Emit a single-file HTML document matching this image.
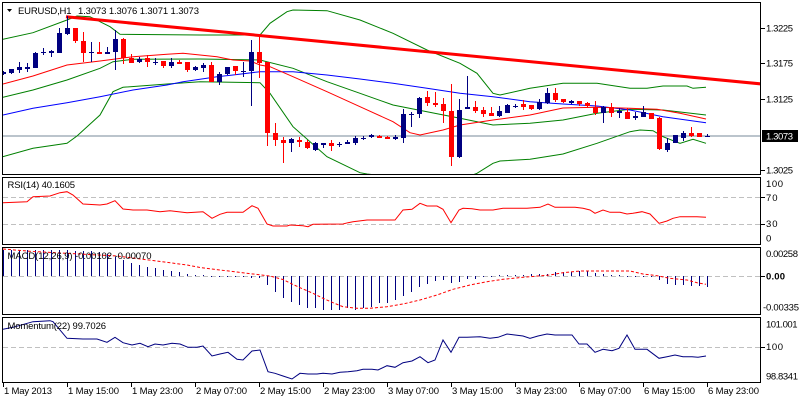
<!DOCTYPE html>
<html><head><meta charset="utf-8"><style>
html,body{margin:0;padding:0;background:#fff;}
svg{display:block;}
text{font-family:"Liberation Sans",sans-serif;font-size:9.5px;fill:#000;}
</style></head><body>
<svg width="800" height="400" viewBox="0 0 800 400" xmlns="http://www.w3.org/2000/svg">
<defs>
<clipPath id="cm"><rect x="3" y="3" width="757" height="171"/></clipPath>
<clipPath id="cr"><rect x="3" y="178" width="757" height="66"/></clipPath>
<clipPath id="cd"><rect x="3" y="248" width="757" height="66"/></clipPath>
<clipPath id="co"><rect x="3" y="318" width="757" height="64"/></clipPath>
</defs>
<rect width="800" height="400" fill="#fff"/>
<g fill="none" stroke="#000" stroke-width="1" shape-rendering="crispEdges">
<rect x="2.5" y="2.5" width="758" height="172"/>
<rect x="2.5" y="177.5" width="758" height="67"/>
<rect x="2.5" y="247.5" width="758" height="67"/>
<rect x="2.5" y="317.5" width="758" height="65"/>
</g>
<!-- MAIN -->
<g clip-path="url(#cm)">
<line x1="3" y1="136" x2="760" y2="136" stroke="#778899" stroke-width="1" shape-rendering="crispEdges"/>
<g fill="none" stroke-width="1">
<polyline stroke="#008000" points="3,39.3 33,32.7 67,20 77,16 90,16.7 110,26.7 120,34.3 200,35 260,35 270,23.3 287,11.7 293,10 327,10.7 360,20 393,33.3 427,50 460,63.3 477,73.3 493,93.3 500,95 530,88.3 563,83.3 597,83.3 630,88.3 647,88.3 663,86 687,86 693,88.3 706,87.3"/>
<polyline stroke="#008000" points="3,97.3 33,90 67,80 100,68.3 113,61.7 133,59.3 200,59 260,60 293,68.3 327,81.7 360,93.3 393,105 427,111.7 460,118.3 493,125 530,123.3 563,120 597,113.3 630,109.3 663,110 706,115"/>
<polyline stroke="#008000" points="3,156.7 33,148.3 67,143.3 77,136 100,115 113,91.7 123,87.3 167,84 200,81.7 260,82.7 270,93.3 293,126.7 327,156.7 360,172.7 367,174 420,180 470,176 477,173.3 493,163.3 500,161 530,159.3 563,154 597,143.3 630,131.7 640,130 653,130.7 663,136.7 680,143.3 693,139.3 706,143.3"/>
<polyline stroke="#0000ff" points="3,115 33,108.3 67,102.7 100,96.7 133,90 167,85 183,81.7 217,76.7 233,75 260,71.7 293,71.7 327,75 360,79 393,83.3 427,88.3 460,93.3 493,96.7 530,101.7 563,104 597,106 630,110 663,116.7 706,122.7"/>
<polyline stroke="#ff0000" points="3,84 33,76 67,65 100,61 133,56.7 167,54.3 183,53.3 217,56.7 233,60 250,61 260,65 270,66.7 293,76.7 327,91.7 360,106.7 393,121.7 410,132.7 420,135 443,130 460,125 493,120 530,115 563,108 597,107.3 630,108.3 657,109.3 680,113.3 706,119"/>
</g>
<line x1="66" y1="16.8" x2="762" y2="84" stroke="#ff0000" stroke-width="3"/>
<g shape-rendering="crispEdges">
<path fill="none" stroke="#000080" stroke-width="1" d="M3.5 71V75M11.5 69V74M19.5 62V73M27.5 63V72M35.5 52V68M43.5 48V55M51.5 50V57M59.5 28V53M67.5 16V35M91.5 42V62M107.5 47V54M115.5 30V70M139.5 57V63M155.5 58V65M171.5 58V68M195.5 66V71M203.5 63V72M219.5 72V85M227.5 67V75M243.5 62V77M251.5 40V106M291.5 138V152M315.5 142V151M323.5 143V148M339.5 142V147M347.5 140V144M355.5 136V145M363.5 136V140M371.5 134V138M395.5 135V140M403.5 109V143M411.5 112V127M419.5 97V118M459.5 99V158M467.5 76V109M499.5 106V117M507.5 104V113M515.5 104V108M539.5 99V110M547.5 88V104M571.5 100V104M603.5 106V123M619.5 108V118M635.5 112V120M643.5 106V117M667.5 138V152M675.5 135V143M683.5 131V141M707.5 134V137"/>
<path fill="#000080" d="M1 72h5v2h-5zM9 69h5v4h-5zM17 67h5v3h-5zM25 67h5v2h-5zM33 53h5v15h-5zM41 52h5v1h-5zM49 51h5v2h-5zM57 33h5v20h-5zM65 28h5v6h-5zM89 52h5v1h-5zM105 52h5v2h-5zM113 39h5v13h-5zM137 59h5v3h-5zM153 62h5v1h-5zM169 62h5v4h-5zM193 67h5v3h-5zM201 65h5v3h-5zM217 74h5v8h-5zM225 67h5v7h-5zM241 71h5v1h-5zM249 52h5v19h-5zM289 139h5v4h-5zM313 143h5v7h-5zM321 143h5v2h-5zM337 144h5v1h-5zM345 142h5v2h-5zM353 138h5v5h-5zM361 138h5v1h-5zM369 135h5v2h-5zM393 137h5v2h-5zM401 114h5v24h-5zM409 114h5v1h-5zM417 98h5v16h-5zM457 110h5v47h-5zM465 107h5v2h-5zM497 111h5v5h-5zM505 105h5v8h-5zM513 106h5v1h-5zM537 102h5v7h-5zM545 93h5v10h-5zM569 101h5v2h-5zM601 107h5v6h-5zM617 111h5v2h-5zM633 116h5v2h-5zM641 112h5v5h-5zM665 143h5v7h-5zM673 135h5v8h-5zM681 133h5v5h-5zM705 136h5v1h-5z"/>
<path fill="none" stroke="#ff0000" stroke-width="1" d="M75.5 28V43M83.5 32V62M99.5 42V54M123.5 38V64M131.5 54V63M147.5 55V67M163.5 61V68M179.5 60V64M187.5 62V72M211.5 62V82M235.5 66V75M259.5 35V78M267.5 62V146M275.5 123V146M283.5 137V163M299.5 137V147M307.5 140V149M331.5 140V151M379.5 135V138M387.5 136V139M427.5 91V106M435.5 92V107M443.5 98V123M451.5 84V166M475.5 101V113M483.5 107V117M491.5 107V116M523.5 100V110M531.5 105V110M555.5 88V102M563.5 99V103M579.5 101V106M587.5 102V107M595.5 101V115M611.5 103V117M627.5 108V119M651.5 113V119M659.5 117V150M691.5 127V137M699.5 133V137"/>
<path fill="#ff0000" d="M73 28h5v13h-5zM81 41h5v12h-5zM97 52h5v2h-5zM121 39h5v19h-5zM129 58h5v5h-5zM145 58h5v4h-5zM161 61h5v5h-5zM177 62h5v2h-5zM185 62h5v8h-5zM209 65h5v17h-5zM233 66h5v5h-5zM257 52h5v11h-5zM265 62h5v71h-5zM273 133h5v7h-5zM281 140h5v3h-5zM297 140h5v2h-5zM305 142h5v6h-5zM329 143h5v3h-5zM377 136h5v2h-5zM385 137h5v2h-5zM425 97h5v6h-5zM433 103h5v2h-5zM441 104h5v7h-5zM449 111h5v46h-5zM473 107h5v4h-5zM481 110h5v4h-5zM489 113h5v3h-5zM521 104h5v3h-5zM529 105h5v4h-5zM553 93h5v7h-5zM561 99h5v3h-5zM577 101h5v3h-5zM585 103h5v3h-5zM593 107h5v6h-5zM609 107h5v6h-5zM625 112h5v7h-5zM649 113h5v6h-5zM657 118h5v31h-5zM689 133h5v3h-5zM697 133h5v4h-5z"/>
</g>
</g>
<polygon points="7,9 12,9 9.5,12" fill="#000"/>
<text x="18" y="14" textLength="53.5">EURUSD,H1</text>
<text x="78" y="14" textLength="121">1.3073 1.3076 1.3071 1.3073</text>
<!-- RSI -->
<g clip-path="url(#cr)">
<g stroke="#c0c0c0" stroke-dasharray="5 3" shape-rendering="crispEdges">
<line x1="3" y1="197.5" x2="760" y2="197.5"/>
<line x1="3" y1="224.5" x2="760" y2="224.5"/>
</g>
<polyline fill="none" stroke="#ff0000" stroke-width="1" points="3,202.7 27,201.7 33,196.7 50,196 60,192.7 67,191.7 73,195 83,204 100,205 107,204 115,200.7 123,209 133,210 147,210 160,211.7 170,210.7 187,212.7 203,211.7 212,218.3 220,214.3 227,212.3 243,212.3 252,205.7 258,208.3 267,224 273,226 287,226 290,225 303,225.7 308,226.7 313,224.3 343,224 348,222.7 353,221.7 367,220 395,220 403,210 412,209.3 420,203.3 427,206 437,206 443,209.3 451,222.7 459,210 463,208.3 472,208.7 480,210 493,210 503,208.3 527,208.3 540,207.3 548,204 555,207.3 575,207.3 583,208.3 590,210 595,213.3 603,210 610,212.3 620,212.3 627,214 633,213.3 642,211.7 650,214 659,223.3 667,221 673,218.3 680,216.7 697,216.7 706,217.3"/>
</g>
<text x="7.5" y="188" textLength="67.5">RSI(14) 40.1605</text>
<!-- MACD -->
<g clip-path="url(#cd)">
<line x1="3" y1="276.5" x2="760" y2="276.5" stroke="#c0c0c0" stroke-dasharray="5 3" shape-rendering="crispEdges"/>
<path fill="none" stroke="#000080" stroke-width="1" shape-rendering="crispEdges" d="M3.5 276V250M11.5 276V250M19.5 276V250M27.5 276V250M35.5 276V250M43.5 276V250M51.5 276V250M59.5 276V250M67.5 276V250M75.5 276V251M83.5 276V251M91.5 276V251M99.5 276V252M107.5 276V254M115.5 276V257M123.5 276V260M131.5 276V263M139.5 276V265M147.5 276V267M155.5 276V268M163.5 276V270M171.5 276V271M179.5 276V272M187.5 276V274M195.5 276V275M203.5 276V275M211.5 276V277M219.5 276V277M227.5 276V277M235.5 276V277M243.5 276V277M251.5 276V278M259.5 276V278M267.5 276V285M275.5 276V292M283.5 276V298M291.5 276V302M299.5 276V305M307.5 276V308M315.5 276V308M323.5 276V310M331.5 276V310M339.5 276V310M347.5 276V308M355.5 276V310M363.5 276V308M371.5 276V307M379.5 276V303M387.5 276V303M395.5 276V300M403.5 276V296M411.5 276V292M419.5 276V287M427.5 276V284M435.5 276V281M443.5 276V280M451.5 276V283M459.5 276V282M467.5 276V279M475.5 276V279M483.5 276V277M491.5 276V277M499.5 276V275M507.5 276V275M515.5 276V275M523.5 276V275M531.5 276V274M539.5 276V274M547.5 276V274M555.5 276V272M563.5 276V272M571.5 276V272M579.5 276V271M587.5 276V271M595.5 276V273M603.5 276V274M611.5 276V275M619.5 276V275M627.5 276V277M635.5 276V277M643.5 276V277M651.5 276V277M659.5 276V280M667.5 276V284M675.5 276V285M683.5 276V285M691.5 276V286M699.5 276V286M707.5 276V287"/>
<polyline fill="none" stroke="#ff0000" stroke-width="1" stroke-dasharray="3 2" points="3,249 33,251.5 80,254 117,256 153,260.5 187,265 200,267.5 220,270 237,272 253,274 270,276 283,279.5 293,284.5 303,289 313,293.3 323,298.3 333,302.7 343,306.7 357,308.3 370,308.3 387,306.7 403,304 420,300 437,295 453,289.3 470,285 487,281.7 503,279.3 523,277.3 550,275 563,272.7 580,271 630,271 643,274 657,275.7 670,278.3 687,280 697,282.7 706,284.3"/>
</g>
<text x="7.5" y="259" textLength="144">MACD(12,26,9) -0.00102 -0.00070</text>
<!-- Momentum -->
<g clip-path="url(#co)">
<line x1="3" y1="347.5" x2="760" y2="347.5" stroke="#c0c0c0" stroke-dasharray="5 3" shape-rendering="crispEdges"/>
<polyline fill="none" stroke="#000080" stroke-width="1" points="3,329.3 8,328.3 13,327.3 33,321.7 50,320.7 53,321.7 67,338.3 83,339 97,339 107,342.3 115,337.3 123,342.7 132,345 140,343.3 148,346.7 155,344 163,345 172,343.3 180,344 188,347.3 197,347.3 203,346 212,356 220,354 228,352.3 237,359.3 243,360 252,351 260,350 268,371.7 275,373.3 283,376 292,379 300,373.3 308,374 317,374 323,373.3 332,374 340,372.3 348,371.7 357,370.7 363,369.3 372,369.3 378,370 387,365.7 395,367.3 403,362.7 412,361 420,356.7 428,362.7 435,360 443,340 451,352.3 459,337.3 467,337.3 480,336.7 490,338.3 498,337.3 507,334 515,335 523,336 530,338.3 538,336 547,334 555,335 572,335 579,344 587,344 595,352.3 603,349.3 612,350.7 619,348.3 627,335 635,349.3 647,349.3 659,358.3 667,356.7 675,355 683,356.7 692,356.7 698,357.3 706,356"/>
</g>
<text x="7.5" y="329" textLength="98.5">Momentum(22) 99.7026</text>
<path stroke="#000" stroke-width="1" shape-rendering="crispEdges" d="M761 28.5H765M761 63.5H765M761 99.5H765M761 170.5H765M761 197.5H765M761 224.5H765M761 276.5H765M761 347.5H765M3.5 383V387M67.5 383V387M131.5 383V387M195.5 383V387M259.5 383V387M323.5 383V387M387.5 383V387M451.5 383V387M515.5 383V387M579.5 383V387M643.5 383V387M707.5 383V387"/>
<text x="766" y="31.5" textLength="27">1.3225</text>
<text x="766" y="66.5" textLength="27">1.3175</text>
<text x="766" y="102.5" textLength="27">1.3125</text>
<text x="766" y="173.5" textLength="27">1.3025</text>
<rect x="762" y="130" width="36" height="12" fill="#000"/>
<text x="766" y="139.5" textLength="27" style="fill:#fff">1.3073</text>
<text x="766" y="187" textLength="17">100</text>
<text x="766" y="201" textLength="11.5">70</text>
<text x="766" y="227" textLength="11.5">30</text>
<text x="766" y="241.5">0</text>
<text x="766" y="257" textLength="32">0.00258</text>
<text x="766" y="279.5" textLength="19" style="font-weight:bold">0.00</text>
<text x="763" y="310.5" textLength="36">-0.00335</text>
<text x="766" y="327.5" textLength="31.5">101.001</text>
<text x="766" y="350" textLength="17">100</text>
<text x="766" y="379.5" textLength="32">98.8341</text>
<g>
<text x="4" y="394" textLength="48">1 May 2013</text>
<text x="68" y="394" textLength="51">1 May 15:00</text>
<text x="132" y="394" textLength="51">1 May 23:00</text>
<text x="196" y="394" textLength="51">2 May 07:00</text>
<text x="260" y="394" textLength="51">2 May 15:00</text>
<text x="324" y="394" textLength="51">2 May 23:00</text>
<text x="388" y="394" textLength="51">3 May 07:00</text>
<text x="452" y="394" textLength="51">3 May 15:00</text>
<text x="516" y="394" textLength="51">3 May 23:00</text>
<text x="580" y="394" textLength="51">6 May 07:00</text>
<text x="644" y="394" textLength="51">6 May 15:00</text>
<text x="708" y="394" textLength="51">6 May 23:00</text>
</g>
</svg>
</body></html>
